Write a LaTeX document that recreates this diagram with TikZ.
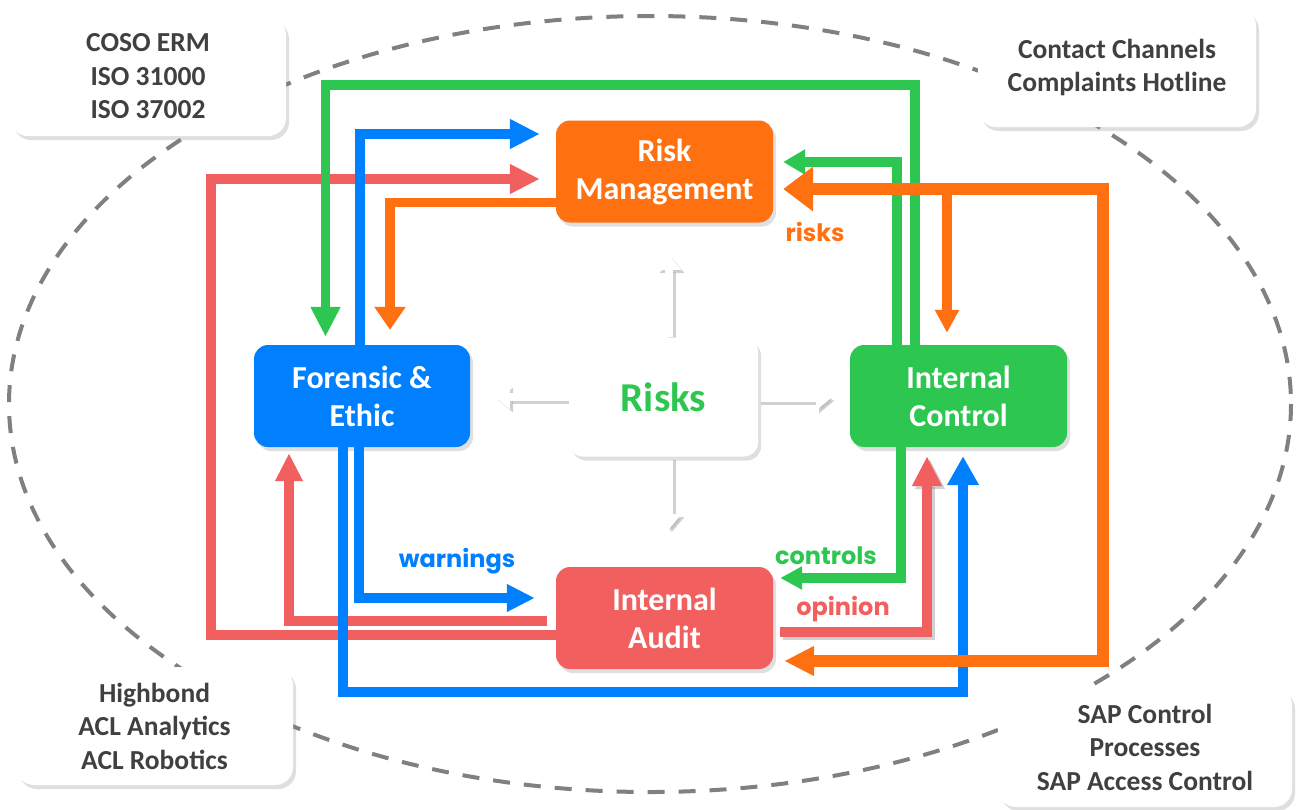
\documentclass[tikz,border=0pt]{standalone}
\usepackage{fontspec}
\setmainfont{Carlito}
\newfontfamily\labfont{Poppins}
\usetikzlibrary{arrows.meta,shadows,calc,backgrounds}
\definecolor{cOr}{HTML}{FF7010}
\definecolor{cBl}{HTML}{0080FF}
\definecolor{cGr}{HTML}{2DC650}
\definecolor{cRd}{HTML}{F25F5F}
\definecolor{cTx}{HTML}{404040}
\definecolor{cDash}{HTML}{808080}
\begin{document}
\begin{tikzpicture}[x=1pt,y=-1pt,
  mainbox/.style={rounded corners=14pt, minimum width=217pt, minimum height=102pt,
    text=white, font=\fontsize{32}{38}\selectfont\bfseries, align=center, inner sep=0pt,
    drop shadow={opacity=0.25,shadow xshift=3pt,shadow yshift=-4pt}},
  cornerbox/.style={rounded corners=18pt, fill=white, text=cTx, align=center, inner sep=0pt,
    font=\fontsize{27.5}{33.5}\selectfont\bfseries,
    drop shadow={opacity=0.25,shadow xshift=3pt,shadow yshift=-4pt}},
  conn/.style={line width=9.5pt},
  bigtip/.style={-{Triangle[length=30pt,width=28pt]}},
  smalltip/.style={-{Triangle[length=22pt,width=24pt]}},
  lab/.style={font=\labfont\bfseries\fontsize{24}{28}\selectfont, anchor=base, inner sep=0pt},
  warr/.style={white, line width=8pt, -{Triangle[length=15pt,width=24pt]}},
  warrshadow/.style={black!30, line width=8pt, -{Triangle[length=15pt,width=24pt]}}
]
\useasboundingbox (0,0) rectangle (1303,809);
% dashed ellipse
\draw[cDash, line width=4pt, dash pattern=on 17pt off 14pt] (650,404) ellipse [x radius=641, y radius=388];

% corner boxes
\node[cornerbox, minimum width=276pt, minimum height=119pt] (tl) at (148,76.5) {COSO ERM\\ISO 31000\\ISO 37002};
\node[cornerbox, minimum width=278pt, minimum height=119pt] (tr) at (1117,67.5) {Contact Channels\\Complaints Hotline};
\node[cornerbox, minimum width=277pt, minimum height=118pt] (bl) at (154.5,726) {Highbond\\ACL Analytics\\ACL Robotics};
\node[cornerbox, minimum width=294pt, minimum height=120pt] (br) at (1145,747) {SAP Control\\Processes\\SAP Access Control};

% main nodes
\node[mainbox, fill=cOr] (rm) at (664.5,171.5) {Risk\\Management};
\node[mainbox, fill=cBl, minimum width=216pt] (fe) at (362,396) {Forensic \&\\Ethic};
\node[mainbox, fill=cGr] (ic) at (958.5,396) {Internal\\Control};
\node[mainbox, fill=cRd] (ia) at (664.5,618) {Internal\\Audit};
\node[mainbox, fill=white, minimum width=189pt, minimum height=119pt, text=cGr,
  font=\fontsize{41}{44}\selectfont\bfseries] (rk) at (663.5,397) {Risks};

% white arrows from Risks (with soft shadow), behind the Risks box
\coordinate (wu) at (669,255);
\coordinate (wd) at (669,529);
\coordinate (wl) at (495,397);
\coordinate (wr) at (831,398);
\begin{pgfonlayer}{background}
\begin{scope}[transform canvas={shift={(3pt,-3pt)}}, opacity=0.6]
\draw[warrshadow] ($(rk.north)+(5.5,0)$) -- (wu);
\draw[warrshadow] ($(rk.south)+(5.5,0)$) -- (wd);
\draw[warrshadow] (rk.west) -- (wl);
\draw[warrshadow] ($(rk.east)+(0,1)$) -- (wr);
\end{scope}
\draw[warr] ($(rk.north)+(5.5,0)$) -- (wu);
\draw[warr] ($(rk.south)+(5.5,0)$) -- (wd);
\draw[warr] (rk.west) -- (wl);
\draw[warr] ($(rk.east)+(0,1)$) -- (wr);
\end{pgfonlayer}

% red connectors
\draw[conn, cRd, bigtip] ($(ia.west)+(0,17)$) -| (211,179) -- ($(rm.west)+(-16,7.5)$);
\draw[conn, cRd, -{Triangle[length=28pt,width=26pt]}] ($(ia.west)+(-9,3)$) -| ($(fe.south)+(-73,6)$);
\begin{scope}[transform canvas={shift={(3pt,-3pt)}}, opacity=0.3]
\draw[conn, black!60, bigtip] ($(ia.east)+(7,14)$) -| ($(ic.south)+(-31.5,9)$);
\end{scope}
\draw[conn, cRd, bigtip] ($(ia.east)+(7,14)$) -| ($(ic.south)+(-31.5,9)$);

% green connectors
\draw[conn, cGr, bigtip] ($(ic.north)+(-43.5,0)$) |- (325.5,85) -- ($(fe.north)+(-36.5,-8)$);
\draw[conn, cGr, smalltip] ($(ic.north)+(-61.5,0)$) |- ($(rm.east)+(10,-9.5)$);
\draw[conn, cGr, -{Triangle[length=22pt,width=22pt]}] ($(ic.south)+(-57.5,0)$) |- ($(ia.east)+(7,-40)$);

% blue connectors
\draw[conn, cBl, bigtip] ($(fe.north)+(-2,0)$) |- ($(rm.west)+(-16,-37.5)$);
\draw[conn, cBl, -{Triangle[length=28pt,width=26pt]}] ($(fe.south)+(-3,0)$) |- ($(ia.west)+(-21,-20)$);
\draw[conn, cBl, -{Triangle[length=29pt,width=30pt]}] ($(fe.south)+(-19,0)$) |- (963,692) -- ($(ic.south)+(4.5,9)$);

% orange connectors
\coordinate (oj) at (1103,189);
\draw[conn, cOr, -{Triangle[length=23pt,width=30pt]}] ($(rm.west)+(0,31)$) -| ($(fe.north)+(28,-15)$);
\draw[conn, cOr, -{Triangle[length=23pt,width=23pt]}] (947,189) -- ($(ic.north)+(-11.5,-12)$);
\draw[line width=12pt, cOr, {Triangle[length=30pt,width=43pt]}-{Triangle[length=30pt,width=28pt]}]
  ($(rm.east)+(10,17.5)$) -- (oj) |- ($(ia.east)+(11,43)$);

% labels
\node[lab, text=cOr] (lrisks) at (815,241) {risks};
\node[lab, text=cBl] (lwarn) at (457,567) {warnings};
\node[lab, text=cGr] (lctrl) at (826,564) {controls};
\node[lab, text=cRd] (lopin) at (843,615) {opinion};
\end{tikzpicture}
\end{document}
